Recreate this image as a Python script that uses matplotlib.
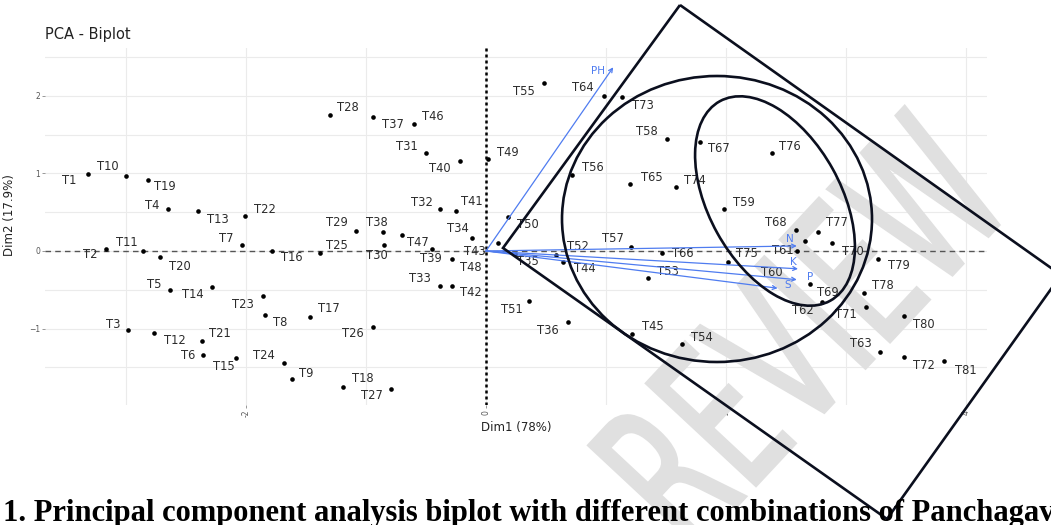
import matplotlib
matplotlib.use("Agg")
import matplotlib.pyplot as plt
import matplotlib.transforms as mtransforms
from matplotlib.patches import Ellipse, Polygon, PathPatch
from matplotlib.textpath import TextPath
from matplotlib.font_manager import FontProperties

W, H = 1051, 525

# treatment scores on the first two components
labels = ["T%d" % i for i in range(1, 82)]
dim1 = [-3.32, -3.17, -2.98, -2.65, -2.63, -2.36, -2.03, -1.84, -1.62, -3.00,
        -2.86, -2.77, -2.40, -2.28, -2.08, -1.78, -1.47, -1.19, -2.82, -2.72,
        -2.37, -2.01, -1.86, -1.68, -1.38, -0.94, -0.79, -1.30, -1.08, -0.85,
        -0.50, -0.38, -0.38, -0.12, 0.24, 0.68, -0.94, -0.86, -0.28, -0.22,
        -0.25, -0.28, 0.10, 0.64, 1.22, -0.60, -0.70, -0.45, 0.02, 0.18,
        0.36, 0.58, 1.35, 1.63, 0.48, 0.72, 1.21, 1.51, 1.98, 2.59,
        2.66, 2.80, 3.28, 0.98, 1.20, 1.47, 1.78, 2.58, 2.70, 2.88,
        3.17, 3.48, 1.13, 1.58, 2.02, 2.38, 2.77, 3.15, 3.27, 3.48, 3.82]
dim2 = [0.99, 0.03, -1.02, 0.54, -0.50, -1.34, 0.08, -0.83, -1.65, 0.97,
        0.00, -1.06, 0.52, -0.46, -1.38, 0.00, -0.85, -1.75, 0.92, -0.08,
        -1.16, 0.45, -0.58, -1.45, -0.03, -0.98, -1.78, 1.75, 0.26, 0.08,
        1.26, 0.54, -0.45, 0.17, -0.04, -0.92, 1.73, 0.25, -0.10, 1.16,
        0.52, -0.45, 0.10, -0.14, -1.07, 1.64, 0.21, 0.03, 1.19, 0.44,
        -0.65, -0.05, -0.35, -1.20, 2.17, 0.98, 0.05, 1.45, 0.54, 0.00,
        0.13, -0.66, -1.30, 2.00, 0.86, -0.03, 1.41, 0.27, -0.43, 0.10,
        -0.72, -1.37, 1.99, 0.83, -0.14, 1.26, 0.25, -0.54, -0.10, -0.84, -1.42]
# where the repelled labels ended up, relative to the point (pixels, y down)
lab_dx = [-18, -15, -15, -16, -16, -15, -16, 15, 15, -18,
          -16, 21, 20, -20, -13, 19, 19, 20, 17, 20,
          18, 20, -20, -21, 17, -20, -19, 18, -20, -7,
          -19, -18, -20, -14, 13, -20, 20, -6, -22, -20,
          16, 18, -23, 22, 20, 19, 16, 39, 19, 20,
          -17, 22, 20, 20, -20, 20, -18, -20, 20, -25,
          -22, -19, -19, -21, 22, 20, 19, -20, 18, 21,
          -21, 20, 21, 19, 19, 18, 19, 19, 20, 20, 21]
lab_dy = [6, 6, -6, -4, -5, 1, -6, 7, -5, -9,
          -8, 7, 9, 8, 9, 7, -8, -8, 7, 9,
          -7, -7, 9, -8, -8, 7, 7, -8, -8, 11,
          -7, -7, -7, -9, 7, 8, 8, -9, 0, 7,
          -9, 7, 8, 7, -7, -7, 8, 19, -6, 8,
          8, -8, -7, -7, 9, -8, -9, -7, -7, 22,
          10, 8, -8, -8, -7, 0, 7, -8, 8, 8,
          8, 8, 9, -6, -8, -7, -9, -7, 7, 8, 9]

# variable loadings
var_names = ["PH", "N", "K", "P", "S"]
var_dim1 = [1.06, 2.59, 2.60, 2.59, 2.43]
var_dim2 = [2.37, 0.065, -0.23, -0.37, -0.48]
var_dx = [-15, -7, -5, 13, 10]
var_dy = [4, -7, -7, -3, -3]

x_major = [-2, 0, 2, 4]
x_minor = [-3, -1, 1, 3]
y_major = [-1, 0, 1, 2]
y_minor = [-1.5, -0.5, 0.5, 1.5, 2.5]

blue = "#4f7cf0"

fig = plt.figure(figsize=(W / 100, H / 100), dpi=100)
ax = fig.add_axes([45 / W, 1 - 405 / H, 942 / W, 357 / H])
ax.set_xlim(-3.675, 4.175)
ax.set_ylim(-1.987, 2.619)

ax.set_xticks(x_major)
ax.set_xticks(x_minor, minor=True)
ax.set_yticks(y_major)
ax.set_yticks(y_minor, minor=True)
ax.set_xticklabels([str(v) for v in x_major], rotation=90)
ax.grid(True, which="both", color="#ebebeb", lw=0.8)
ax.set_axisbelow(True)
for s in ax.spines.values():
    s.set_visible(False)
ax.tick_params(which="major", length=2, width=0.6, color="#888888",
               labelsize=5.5, labelcolor="#555555", pad=1.5)
ax.tick_params(which="minor", length=0)

ax.axhline(0, color="#555555", lw=1.0, ls=(0, (4, 3)), zorder=2)
ax.axvline(0, color="black", lw=1.8, ls=(0, (1.2, 1.2)), zorder=2)

ax.scatter(dim1, dim2, s=11, c="black", zorder=4, linewidths=0)
for lab, x, y, dx, dy in zip(labels, dim1, dim2, lab_dx, lab_dy):
    ax.annotate(lab, (x, y), xytext=(dx * 0.72, -dy * 0.72),
                textcoords="offset points", ha="center", va="center",
                fontsize=8.3, color="#2b2b2b", zorder=4)

for name, x, y, dx, dy in zip(var_names, var_dim1, var_dim2, var_dx, var_dy):
    ax.annotate("", xy=(x, y), xytext=(0, 0),
                arrowprops=dict(arrowstyle="->", color=blue, lw=0.9,
                                mutation_scale=7, shrinkA=0, shrinkB=0),
                zorder=5)
    ax.annotate(name, (x, y), xytext=(dx * 0.72, -dy * 0.72),
                textcoords="offset points", ha="center", va="center",
                fontsize=7.5, color=blue, zorder=5)

# pixel coordinates, y measured from the top of the image
pix = mtransforms.Affine2D().scale(1, -1).translate(0, H)

# watermark
fp = FontProperties(family="DejaVu Sans")
tp = TextPath((0, 0), "REVIEW", size=1, prop=fp)
wm_tr = mtransforms.Affine2D().scale(122, 205).rotate_deg(47).translate(690, H - 556)
wm = PathPatch(tp, transform=wm_tr, facecolor="#e0e0e0", edgecolor="#e0e0e0",
               lw=2.5, zorder=1.5)
ax.add_artist(wm)
wm.set_clip_on(False)

# hand drawn marks
ink = "#0b0f1e"
shapes = [
    Polygon([(680, 5), (1061, 275), (887, 519), (503, 248)], closed=True),
    Ellipse((717, 219), 310, 286, angle=0),
    Ellipse((775, 201), 228, 132, angle=61),
]
for shp in shapes:
    shp.set_transform(pix)
    shp.set_fill(False)
    shp.set_edgecolor(ink)
    shp.set_linewidth(1.9)
    shp.set_zorder(6)
    ax.add_artist(shp)
    shp.set_clip_on(False)

fig.text(45 / W, 1 - 35 / H, "PCA - Biplot", fontsize=10.5, color="#222222",
         va="center")
fig.text(516 / W, 1 - 428 / H, "Dim1 (78%)", fontsize=8.5, color="#222222",
         ha="center", va="center")
fig.text(10 / W, 1 - 215 / H, "Dim2 (17.9%)", fontsize=8.5, color="#222222",
         ha="center", va="center", rotation=90)
fig.text(3 / W, 4 / H,
         "1. Principal component analysis biplot with different combinations of Panchagavya",
         family="Liberation Serif", weight="bold", fontsize=22, color="black",
         va="baseline", zorder=7)

fig.savefig("out.png", dpi=100)
